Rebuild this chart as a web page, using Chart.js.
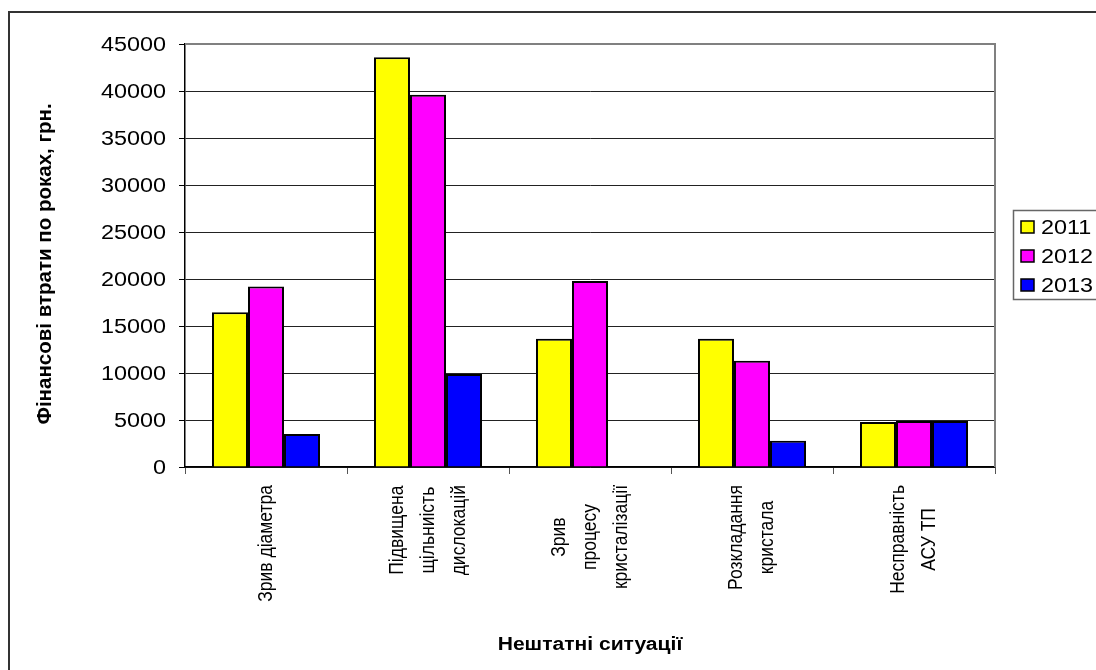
<!DOCTYPE html>
<html>
<head>
<meta charset="utf-8">
<script src="https://cdn.jsdelivr.net/npm/chart.js@4.4.1/dist/chart.umd.min.js"></script>
<style>
  html, body { margin: 0; padding: 0; background: #fff; }
  #wrap { width: 1096px; height: 670px; }
</style>
</head>
<body>
<div id="wrap"><canvas id="c" width="1096" height="670"></canvas></div>
<script>
// Categories (each entry is the list of label lines under the axis)
const categories = [
  ['Зрив діаметра'],
  ['Підвищена', 'щільниість', 'дислокацій'],
  ['Зрив', 'процесу', 'кристалізації'],
  ['Розкладання', 'кристала'],
  ['Несправність', 'АСУ ТП']
];
const years = ['2011', '2012', '2013'];
const losses2011 = [16450, 43600, 13650, 13650, 4800];
const losses2012 = [19200, 39600, 19800, 11300, 4900];
const losses2013 = [3500, 9900, 0, 2800, 4900];
const yTickMin = 0;
const yTickMax = 45000;
const yTickStep = 5000;
const yTitle = 'Фінансові втрати по роках, грн.';
const xTitle = 'Нештатні ситуації';

const FONT = '"Liberation Sans", Arial, sans-serif';
const WIDEN = 1.17; // horizontal widening of the chart lettering
Chart.defaults.font.family = FONT;
Chart.defaults.color = '#000';

// text drawn at (x, y), stretched horizontally by sx, optionally turned upright
function drawText(ctx, text, x, y, sx, upright) {
  ctx.save();
  ctx.translate(x, y);
  ctx.scale(sx, 1);
  if (upright) ctx.rotate(-Math.PI / 2);
  ctx.fillText(text, 0, 0);
  ctx.restore();
}

// Frame, plot border, axis text, legend and rotated category labels
const decor = {
  id: 'decor',
  beforeDraw(chart) {
    const ctx = chart.ctx;
    ctx.save();
    ctx.fillStyle = '#fff';
    ctx.fillRect(0, 0, chart.width, chart.height);
    ctx.strokeStyle = '#333';
    ctx.lineWidth = 2;
    ctx.strokeRect(9, 12, chart.width + 40, chart.height + 40);
    ctx.restore();
  },
  afterDraw(chart) {
    const ctx = chart.ctx;
    const a = chart.chartArea;
    const ys = chart.scales.y;
    const xs = chart.scales.x;
    ctx.save();

    // plot area right / top edge
    ctx.strokeStyle = '#808080';
    ctx.lineWidth = 2;
    ctx.beginPath();
    ctx.moveTo(a.left, a.top);
    ctx.lineTo(a.right, a.top);
    ctx.lineTo(a.right, a.bottom);
    ctx.stroke();

    ctx.fillStyle = '#000';

    // value axis tick labels
    ctx.font = '20px ' + FONT;
    ctx.textAlign = 'right';
    ctx.textBaseline = 'middle';
    ys.ticks.forEach(t => {
      drawText(ctx, String(t.value), a.left - 19, ys.getPixelForValue(t.value) + 1, WIDEN, false);
    });

    // value axis title
    ctx.font = 'bold 20.5px ' + FONT;
    ctx.textAlign = 'center';
    drawText(ctx, yTitle, 45, 264, 1, true);

    // category axis title
    ctx.font = 'bold 18px ' + FONT;
    ctx.textAlign = 'center';
    drawText(ctx, xTitle, (a.left + a.right) / 2, 645, WIDEN, false);

    // legend
    ctx.strokeStyle = '#666';
    ctx.lineWidth = 1.5;
    ctx.strokeRect(1013.5, 210.5, 120, 89);
    ctx.font = '20px ' + FONT;
    ctx.textAlign = 'left';
    chart.data.datasets.forEach((ds, i) => {
      const cy = 227 + i * 29;
      ctx.fillStyle = ds.backgroundColor;
      ctx.fillRect(1021, cy - 6, 13, 12);
      ctx.strokeStyle = '#000';
      ctx.lineWidth = 1.5;
      ctx.strokeRect(1021, cy - 6, 13, 12);
      ctx.fillStyle = '#000';
      drawText(ctx, ds.label, 1041, cy + 1, WIDEN, false);
    });

    // category labels, turned upright, lines centred on each other
    ctx.font = '17.5px ' + FONT;
    ctx.textAlign = 'center';
    ctx.textBaseline = 'middle';
    const top = a.bottom + 18;
    const lineGap = 31;
    chart.data.labels.forEach((lines, i) => {
      const cx = xs.getPixelForValue(i);
      const maxW = Math.max(...lines.map(t => ctx.measureText(t).width));
      lines.forEach((t, j) => {
        const x = cx + (j - (lines.length - 1) / 2) * lineGap;
        drawText(ctx, t, x, top + maxW / 2, 1.15, true);
      });
    });
    ctx.restore();
  }
};

new Chart(document.getElementById('c'), {
  type: 'bar',
  data: {
    labels: categories,
    datasets: [
      { label: years[0], data: losses2011, backgroundColor: '#FFFF00' },
      { label: years[1], data: losses2012, backgroundColor: '#FF00FF' },
      { label: years[2], data: losses2013, backgroundColor: '#0000FF' }
    ]
  },
  options: {
    responsive: false,
    animation: false,
    devicePixelRatio: 1,
    layout: { padding: { left: 29, right: 101, top: 44, bottom: 10 } },
    datasets: {
      bar: {
        borderColor: '#000',
        borderWidth: 2,
        barPercentage: 1,
        categoryPercentage: 0.667
      }
    },
    plugins: {
      legend: { display: false },
      tooltip: { enabled: false }
    },
    scales: {
      x: {
        offset: true,
        grid: {
          offset: true,
          drawOnChartArea: false,
          drawTicks: true,
          tickLength: 7,
          color: '#555',
          lineWidth: 1
        },
        border: { color: '#000', width: 1.5 },
        ticks: { display: false },
        afterFit(scale) { scale.height = 193; }
      },
      y: {
        min: yTickMin,
        max: yTickMax,
        grid: {
          color: '#222',
          lineWidth: 1,
          tickLength: 6,
          tickColor: '#000'
        },
        border: { color: '#000', width: 1.5 },
        ticks: { stepSize: yTickStep, display: false },
        afterFit(scale) { scale.width = 156; }
      }
    }
  },
  plugins: [decor]
});
</script>
</body>
</html>
